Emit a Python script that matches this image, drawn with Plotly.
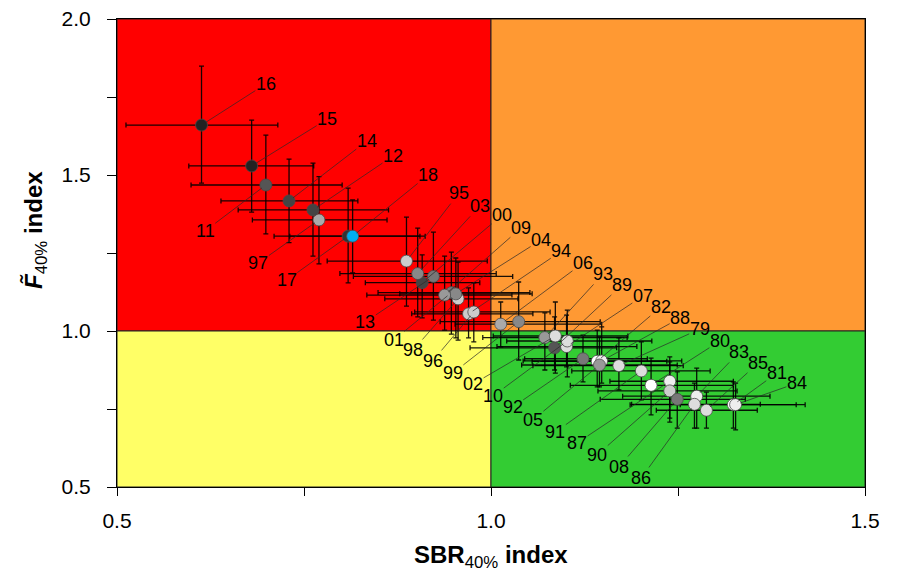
import plotly.graph_objects as go

years = ['79','80','81','82','83','84','85','86','87','88','89','90','91','92','93','94','95','96','97','98',
         '99','00','01','02','03','04','05','06','07','08','09','10','11','12','13','14','15','16','17','18']

sbr = [1.171,1.214,1.324,1.142,1.275,1.327,1.288,1.272,1.239,1.148,1.085,1.239,1.201,1.123,1.072,0.970,0.887,0.977,0.770,0.956,
       1.037,0.908,0.947,1.086,0.902,0.953,1.145,1.013,1.101,1.249,0.938,1.102,0.699,0.762,0.923,0.730,0.680,0.613,0.809,0.815]
sbr_lo = [1.056,1.106,1.186,1.055,1.176,1.253,1.221,1.188,1.159,1.043,0.972,1.143,1.108,1.045,0.989,0.894,0.781,0.898,0.681,0.858,
          0.932,0.832,0.849,1.003,0.798,0.878,1.041,0.952,1.008,1.146,0.834,1.021,0.599,0.662,0.816,0.639,0.596,0.512,0.710,0.731]
sbr_hi = [1.257,1.324,1.408,1.235,1.373,1.420,1.356,1.360,1.324,1.255,1.168,1.329,1.293,1.209,1.182,1.056,0.995,1.079,0.861,1.036,
          1.146,0.985,1.052,1.183,1.007,1.055,1.249,1.148,1.195,1.340,1.028,1.215,0.801,0.863,1.029,0.822,0.763,0.715,0.912,0.905]

f_idx = [0.889,0.826,0.764,0.903,0.791,0.764,0.746,0.765,0.839,0.904,0.946,0.808,0.872,0.911,0.979,1.055,1.224,1.061,1.356,1.103,
         1.030,1.155,1.123,0.984,1.184,1.119,0.891,1.022,0.950,0.781,1.115,0.968,1.468,1.388,1.175,1.417,1.529,1.660,1.304,1.304]
f_lo = [0.811,0.731,0.689,0.821,0.689,0.683,0.689,0.689,0.721,0.833,0.875,0.708,0.779,0.837,0.875,0.978,1.080,0.965,1.215,0.971,
        0.907,1.042,0.990,0.865,1.045,0.978,0.821,0.949,0.885,0.689,1.003,0.853,1.311,1.240,1.035,1.283,1.381,1.474,1.154,1.186]
f_hi = [0.978,0.913,0.837,1.003,0.881,0.833,0.804,0.833,0.917,1.013,1.045,0.901,0.965,0.987,1.058,1.138,1.365,1.154,1.495,1.221,
        1.157,1.244,1.253,1.093,1.330,1.234,0.981,1.093,1.051,0.869,1.240,1.067,1.628,1.538,1.317,1.551,1.676,1.849,1.458,1.420]

# style: marker fill per year
point_fill = ['#dddddd','#ffffff','#ffffff','#ffffff','#eeeeee','#eeeeee','#dddddd','#dddddd','#eeeeee','#eeeeee',
              '#555555','#cccccc','#dddddd','#777777','#999999','#cccccc','#cccccc','#cccccc','#aaaaaa','#cccccc',
              '#888888','#444444','#777777','#dddddd','#888888','#888888','#999999','#aaaaaa','#dddddd','#777777',
              '#999999','#dddddd','#555555','#444444','#777777','#444444','#222222','#222222','#333333','#00AEEF']

# layout: label anchor positions (data units)
label_x = [1.279,1.306,1.382,1.227,1.332,1.409,1.357,1.201,1.115,1.253,1.175,1.142,1.086,1.029,1.150,1.094,0.957,0.922,0.689,0.896,
           0.949,1.015,0.870,0.976,0.985,1.067,1.056,1.123,1.203,1.171,1.040,1.003,0.618,0.869,0.832,0.834,0.781,0.699,0.727,0.916]
label_y = [1.006,0.968,0.865,1.077,0.933,0.833,0.897,0.529,0.641,1.042,1.147,0.603,0.676,0.756,1.183,1.256,1.442,0.904,1.218,0.939,
           0.865,1.372,0.971,0.830,1.401,1.292,0.715,1.218,1.112,0.564,1.330,0.792,1.321,1.561,1.029,1.609,1.679,1.792,1.163,1.500]

FONT = "Liberation Sans, Arial, sans-serif"

ex_plus = [h - v for h, v in zip(sbr_hi, sbr)]
ex_minus = [v - l for l, v in zip(sbr_lo, sbr)]
ey_plus = [h - v for h, v in zip(f_hi, f_idx)]
ey_minus = [v - l for l, v in zip(f_lo, f_idx)]

fig = go.Figure()

# quadrants
quads = [((0.5, 1.0), (1.0, 2.0), '#FF0000'),
         ((1.0, 1.5), (1.0, 2.0), '#FF9933'),
         ((0.5, 1.0), (0.5, 1.0), '#FFFF66'),
         ((1.0, 1.5), (0.5, 1.0), '#33CC33')]
for (x0, x1), (y0, y1), c in quads:
    fig.add_shape(type='rect', xref='x', yref='y', x0=x0, x1=x1, y0=y0, y1=y1,
                  fillcolor=c, line=dict(color='#222222', width=1), layer='below')

fig.add_trace(go.Scatter(
    x=sbr, y=f_idx, mode='markers',
    marker=dict(size=12, color=point_fill, line=dict(color='#4a4a4a', width=0.8)),
    error_x=dict(type='data', array=ex_plus, arrayminus=ex_minus, symmetric=False,
                 color='rgba(0,0,0,0.9)', thickness=1.3, width=2.5),
    error_y=dict(type='data', array=ey_plus, arrayminus=ey_minus, symmetric=False,
                 color='rgba(0,0,0,0.9)', thickness=1.3, width=2.5),
    showlegend=False, hoverinfo='skip'))

annotations = []
for i, yr in enumerate(years):
    annotations.append(dict(
        x=sbr[i], y=f_idx[i], xref='x', yref='y',
        ax=label_x[i], ay=label_y[i], axref='x', ayref='y',
        text=yr, showarrow=True, arrowhead=0, arrowwidth=0.7, arrowcolor='#2a2a2a',
        standoff=5, borderpad=0,
        font=dict(family=FONT, size=18, color='black')))

# axis titles
annotations.append(dict(
    text='<b>SBR</b><sub>40%</sub><b> index</b>', xref='paper', yref='paper',
    x=0.5, y=0, xanchor='center', yanchor='middle', yshift=-69, showarrow=False,
    font=dict(family=FONT, size=24, color='black')))
annotations.append(dict(
    text='<b><i>F\u0303</i></b><sub>40%</sub><b> index</b>', xref='paper', yref='paper',
    x=0, y=0.5, xanchor='center', yanchor='middle', xshift=-82, yshift=23, textangle=-90,
    showarrow=False, font=dict(family=FONT, size=24, color='black')))

fig.update_layout(
    width=897, height=568,
    margin=dict(l=109, r=40, t=11, b=89),
    paper_bgcolor='white', plot_bgcolor='white',
    font=dict(family=FONT, color='black'),
    annotations=annotations,
    showlegend=False,
)

fig.update_xaxes(
    range=[0.5, 1.5], tickvals=[0.5, 1.0, 1.5], ticktext=['0.5', '1.0', '1.5'],
    ticks='outside', ticklen=8, tickwidth=1, tickcolor='black',
    minor=dict(tickvals=[0.75, 1.25], ticks='outside', ticklen=8, tickcolor='black'),
    showline=True, linecolor='black', linewidth=1, mirror=True,
    showgrid=False, zeroline=False, automargin=False, ticklabeloverflow='allow',
    tickfont=dict(family=FONT, size=21, color='black'), ticklabelstandoff=7)

fig.update_yaxes(
    range=[0.5, 2.0], tickvals=[0.5, 1.0, 1.5, 2.0], ticktext=['0.5', '1.0', '1.5', '2.0'],
    ticks='outside', ticklen=9, tickwidth=1, tickcolor='black',
    minor=dict(tickvals=[0.75, 1.25, 1.75], ticks='outside', ticklen=9, tickcolor='black'),
    showline=True, linecolor='black', linewidth=1, mirror=True,
    showgrid=False, zeroline=False, automargin=False, ticklabeloverflow='allow',
    tickfont=dict(family=FONT, size=21, color='black'), ticklabelstandoff=12)

fig.write_html("out.html")
